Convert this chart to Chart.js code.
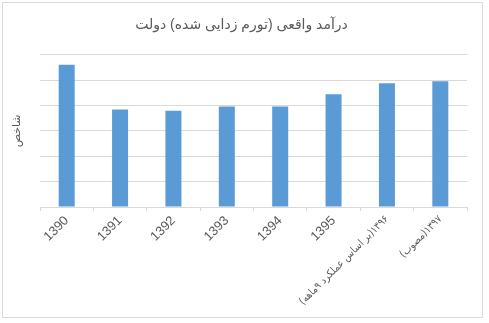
<!DOCTYPE html>
<html>
<head>
<meta charset="utf-8">
<script src="https://cdn.jsdelivr.net/npm/chart.js@4/dist/chart.umd.min.js"></script>
<style>
    body { margin: 0; background: #fff; }
    #frame { position: absolute; left: 2px; top: 2px; width: 479px; height: 314px; border: 1px solid #d9d9d9; }
    #wrap { position: absolute; left: 0; top: 0; width: 489px; height: 323px; }
</style>
</head>
<body>
<div id="frame"></div>
<div id="wrap"><canvas id="chart" width="489" height="323" dir="rtl"></canvas></div>
<script>
// categories (years)
var years = ["1390", "1391", "1392", "1393", "1394", "1395", "۱۳۹۶(بر اساس عملکرد ۹ماهه)", "۱۳۹۷(مصوب)"];
// index values (gridline units)
var indexValues = [5.61, 3.84, 3.79, 3.96, 3.96, 4.44, 4.88, 4.96];
var yMin = 0;
var yMax = 6;

var textColor = "#595959";
var gridColor = "#d9d9d9";
var fontFamily = "'Liberation Sans', 'DejaVu Sans', sans-serif";
var persianFamily = "'DejaVu Sans Condensed', 'DejaVu Sans', sans-serif";

var ctx = document.getElementById("chart").getContext('2d');
var myChart = new Chart(ctx, {
    type: 'bar',
    data: {
        labels: years,
        datasets: [{
            data: indexValues,
            backgroundColor: "#5b9bd5",
            barPercentage: 0.3,
            categoryPercentage: 1
        }]
    },
    options: {
        responsive: false,
        animation: false,
        layout: {
            padding: { left: 16, right: 22, top: 0, bottom: 0 }
        },
        plugins: {
            legend: { display: false },
            tooltip: { enabled: false },
            title: {
                display: true,
                text: "درآمد واقعی (تورم زدایی شده) دولت",
                color: textColor,
                font: { family: fontFamily, size: 14, weight: 'normal' },
                padding: { top: 17, bottom: 21 }
            }
        },
        scales: {
            x: {
                grid: {
                    offset: true,
                    drawOnChartArea: false,
                    tickLength: 4,
                    color: gridColor
                },
                border: { color: gridColor },
                ticks: {
                    color: textColor,
                    font: function(c) {
                        // the Persian labels are set narrower
                        if (c.index >= 6) {
                            return { family: persianFamily, size: 10.5 };
                        }
                        return { family: fontFamily, size: 13 };
                    },
                    minRotation: 45,
                    maxRotation: 45,
                    autoSkip: false,
                    padding: 2
                },
                afterFit: function(scale) { scale.height = 116; }
            },
            y: {
                min: yMin,
                max: yMax,
                ticks: { display: false, stepSize: 1 },
                grid: { color: gridColor, drawTicks: false },
                border: { display: false },
                title: {
                    display: true,
                    text: "شاخص",
                    color: textColor,
                    font: { family: fontFamily, size: 11 },
                    padding: { top: -6, bottom: 0 }
                },
                afterFit: function(scale) { scale.width = 24; }
            }
        }
    }
});
</script>
</body>
</html>
